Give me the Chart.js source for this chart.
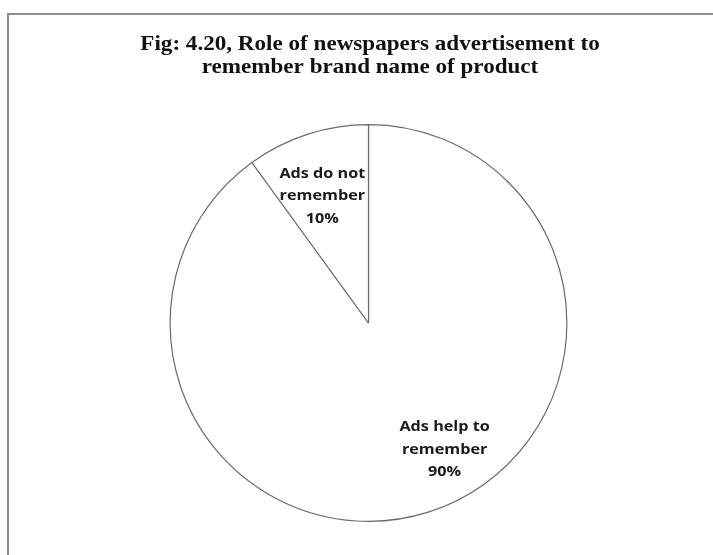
<!DOCTYPE html>
<html>
<head>
<meta charset="utf-8">
<script src="https://cdn.jsdelivr.net/npm/chart.js@4/dist/chart.umd.min.js"></script>
<style>
html,body{margin:0;padding:0;background:#fff;}
#wrap{width:713px;height:555px;position:relative;}
</style>
</head>
<body>
<div id="wrap"><canvas id="c" width="713" height="555"></canvas></div>
<script>
const categories = ["Ads help to remember", "Ads do not remember"];
const labelLines = [["Ads help to", "remember"], ["Ads do not", "remember"]];
const values = [90, 10];
const titleLines = ["Fig: 4.20, Role of newspapers advertisement to", "remember brand name of product"];

// label placement: angle offset (deg, from slice middle) and radius fraction
const labelPlace = [{dAng: -13, rFrac: 0.745}, {dAng: -2, rFrac: 0.68}];

const frame = {
  id: 'frame',
  beforeDraw(chart) {
    const ctx = chart.ctx;
    ctx.save();
    ctx.fillStyle = '#fff';
    ctx.fillRect(0, 0, chart.width, chart.height);
    ctx.strokeStyle = '#8c8c8c';
    ctx.lineWidth = 2;
    ctx.beginPath();
    ctx.moveTo(713, 14);
    ctx.lineTo(8, 14);
    ctx.lineTo(8, 555);
    ctx.stroke();
    ctx.restore();
  },
  afterDraw(chart) {
    const ctx = chart.ctx;
    ctx.save();
    ctx.fillStyle = '#111';
    ctx.font = 'bold 21px "Liberation Serif", "Times New Roman", serif';
    ctx.textAlign = 'center';
    ctx.textBaseline = 'middle';
    const cx = 370;
    ctx.translate(cx, 0);
    ctx.scale(1.1, 1);
    titleLines.forEach((t, i) => ctx.fillText(t, 0, 45 + i * 23));
    ctx.restore();
  }
};

const sliceLabels = {
  id: 'sliceLabels',
  afterDatasetsDraw(chart) {
    const ctx = chart.ctx;
    const meta = chart.getDatasetMeta(0);
    const total = values.reduce((a, b) => a + b, 0);
    meta.data.forEach((arc, i) => {
      const p = arc.getProps(['x', 'y', 'startAngle', 'endAngle', 'outerRadius'], true);
      const mid = (p.startAngle + p.endAngle) / 2 + labelPlace[i].dAng * Math.PI / 180;
      const r = p.outerRadius * labelPlace[i].rFrac;
      const x = p.x + Math.cos(mid) * r;
      const y = p.y + Math.sin(mid) * r;
      const lines = labelLines[i].concat([Math.round(values[i] / total * 100) + '%']);
      const lh = 22.5;
      ctx.save();
      ctx.fillStyle = '#1a1a1a';
      ctx.font = 'bold 15px "Open Sans", "Liberation Sans", sans-serif';
      ctx.textAlign = 'center';
      ctx.textBaseline = 'middle';
      ctx.translate(x, y);
      ctx.scale(1.08, 1);
      lines.forEach((t, k) => {
        ctx.fillText(t, 0, (k - (lines.length - 1) / 2) * lh);
      });
      ctx.restore();
    });
  }
};

new Chart(document.getElementById('c'), {
  type: 'pie',
  data: {
    labels: categories,
    datasets: [{
      data: values,
      backgroundColor: '#ffffff',
      borderColor: '#6b6b6b',
      borderWidth: 1.2,
      borderAlign: 'center'
    }]
  },
  options: {
    responsive: false,
    animation: false,
    events: [],
    layout: { padding: { left: 50, right: 26, top: 124, bottom: 33 } },
    plugins: {
      legend: { display: false },
      tooltip: { enabled: false },
      title: { display: false }
    }
  },
  plugins: [frame, sliceLabels]
});
</script>
</body>
</html>
